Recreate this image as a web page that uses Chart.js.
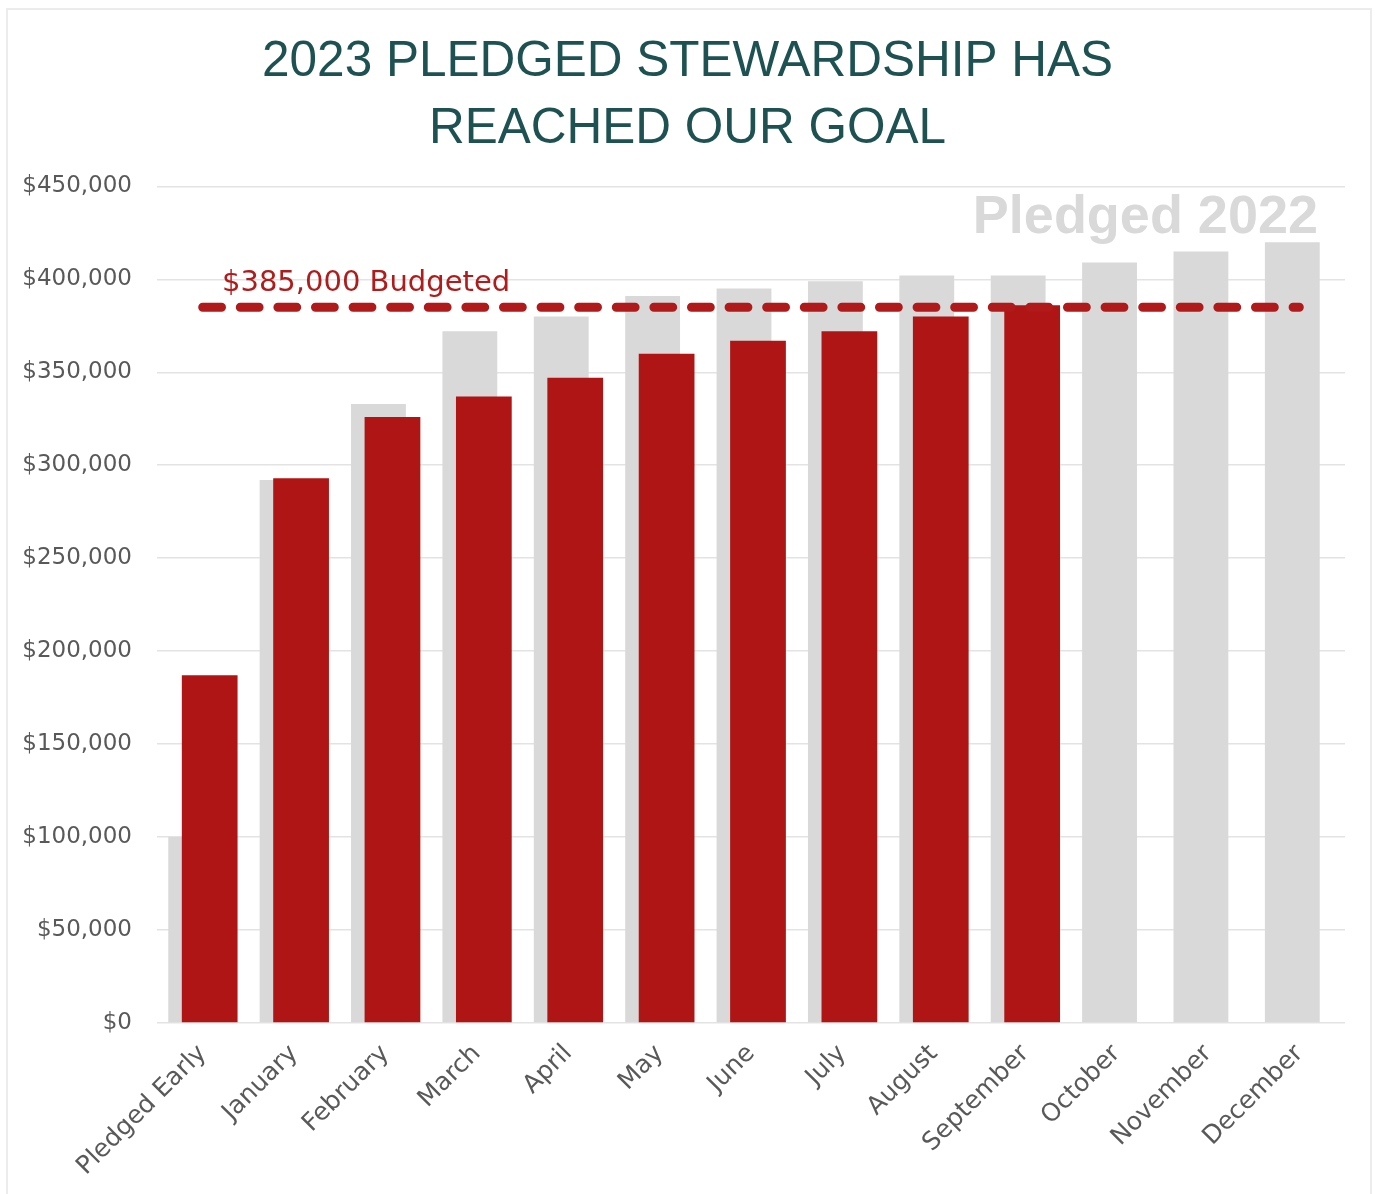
<!DOCTYPE html>
<html>
<head>
<meta charset="utf-8">
<script src="https://cdn.jsdelivr.net/npm/chart.js@4.4.0/dist/chart.umd.min.js"></script>
<style>
  html, body { margin: 0; padding: 0; background: #fff; }
  #frame { position: absolute; left: 6px; top: 8px; width: 1366px; height: 1200px; border: 2px solid #ececec; box-sizing: border-box; }
  #wrap { position: absolute; left: 0; top: 0; width: 1375px; height: 1194px; }
</style>
</head>
<body>
<div id="frame"></div>
<div id="wrap"><canvas id="c"></canvas></div>
<script>
const categories = ["Pledged Early", "January", "February", "March", "April", "May", "June", "July", "August", "September", "October", "November", "December"];
const pledged2022 = [100000, 292000, 333000, 372000, 380000, 391000, 395000, 399000, 402000, 402000, 409000, 415000, 420000];
const pledged2023 = [187000, 293000, 326000, 337000, 347000, 360000, 367000, 372000, 380000, 386000, null, null, null];
const budget = 385000;
const budgetLine = categories.map(() => budget);
const titleLines = ["2023 PLEDGED STEWARDSHIP HAS", "REACHED OUR GOAL"];
const budgetLabel = "$385,000 Budgeted";
const seriesLabel2022 = "Pledged 2022";

const RED = '#AF1515';
const GRAY = '#D9D9D9';

const shiftPlugin = {
  id: 'shift',
  afterDatasetsUpdate(chart) {
    const shifts = { 0: -7, 1: 7 };
    chart.data.datasets.forEach((ds, i) => {
      if (shifts[i] === undefined) return;
      const meta = chart.getDatasetMeta(i);
      meta.data.forEach(el => { el.x += shifts[i]; });
    });
  }
};

const textPlugin = {
  id: 'texts',
  afterDatasetsDraw(chart) {
    const { ctx, chartArea, scales } = chart;
    const y = scales.y;
    ctx.save();
    ctx.font = 'bold 54px "Liberation Sans"';
    ctx.fillStyle = GRAY;
    ctx.textAlign = 'right';
    ctx.textBaseline = 'alphabetic';
    ctx.fillText(seriesLabel2022, chartArea.right - 27, y.getPixelForValue(450000) + 47);
    ctx.font = '29px "DejaVu Sans"';
    ctx.fillStyle = '#B01C1C';
    ctx.textAlign = 'left';
    ctx.textBaseline = 'middle';
    ctx.fillText(budgetLabel, chartArea.left + 65, y.getPixelForValue(budget) - 24);
    ctx.restore();
  }
};

new Chart(document.getElementById('c'), {
  data: {
    labels: categories,
    datasets: [
      { type: 'bar', label: '2022', data: pledged2022, backgroundColor: GRAY, order: 3, grouped: false,
        barPercentage: 0.6, categoryPercentage: 1.0 },
      { type: 'bar', label: '2023', data: pledged2023, backgroundColor: RED, order: 2, grouped: false,
        barPercentage: 0.61, categoryPercentage: 1.0 },
      { type: 'line', label: 'Budget', data: budgetLine, borderColor: '#B01A1A', borderWidth: 9,
        borderDash: [18.8, 18.8], borderCapStyle: 'round', pointRadius: 0, fill: false, order: 1, tension: 0 }
    ]
  },
  options: {
    responsive: true,
    maintainAspectRatio: false,
    animation: false,
    layout: { padding: 0 },
    plugins: {
      legend: { display: false },
      tooltip: { enabled: false },
      title: {
        display: true,
        text: titleLines,
        color: '#1E5252',
        font: { family: '"Liberation Sans"', size: 49.5, weight: 'normal', lineHeight: 1.347 },
        padding: { top: 29, bottom: 24 }
      }
    },
    scales: {
      x: {
        offset: true,
        grid: { display: false },
        border: { display: false },
        ticks: { color: '#595959', font: { family: '"DejaVu Sans"', size: 25 }, maxRotation: 45, minRotation: 45, padding: 8 },
        afterFit(s) { s.height = 171; }
      },
      y: {
        min: 0, max: 450000,
        grid: { color: '#E3E3E3', lineWidth: 1.5, drawTicks: false },
        border: { display: false },
        ticks: {
          stepSize: 50000, padding: 25, color: '#595959',
          font: { family: '"DejaVu Sans"', size: 23 },
          callback: v => '$' + v.toLocaleString('en-US')
        },
        afterFit(s) { s.width = 157; }
      },
      yRight: {
        position: 'right',
        display: true,
        grid: { display: false, drawTicks: false },
        border: { display: false },
        ticks: { display: false },
        afterFit(s) { s.width = 30; }
      }
    }
  },
  plugins: [shiftPlugin, textPlugin]
});
</script>
</body>
</html>
